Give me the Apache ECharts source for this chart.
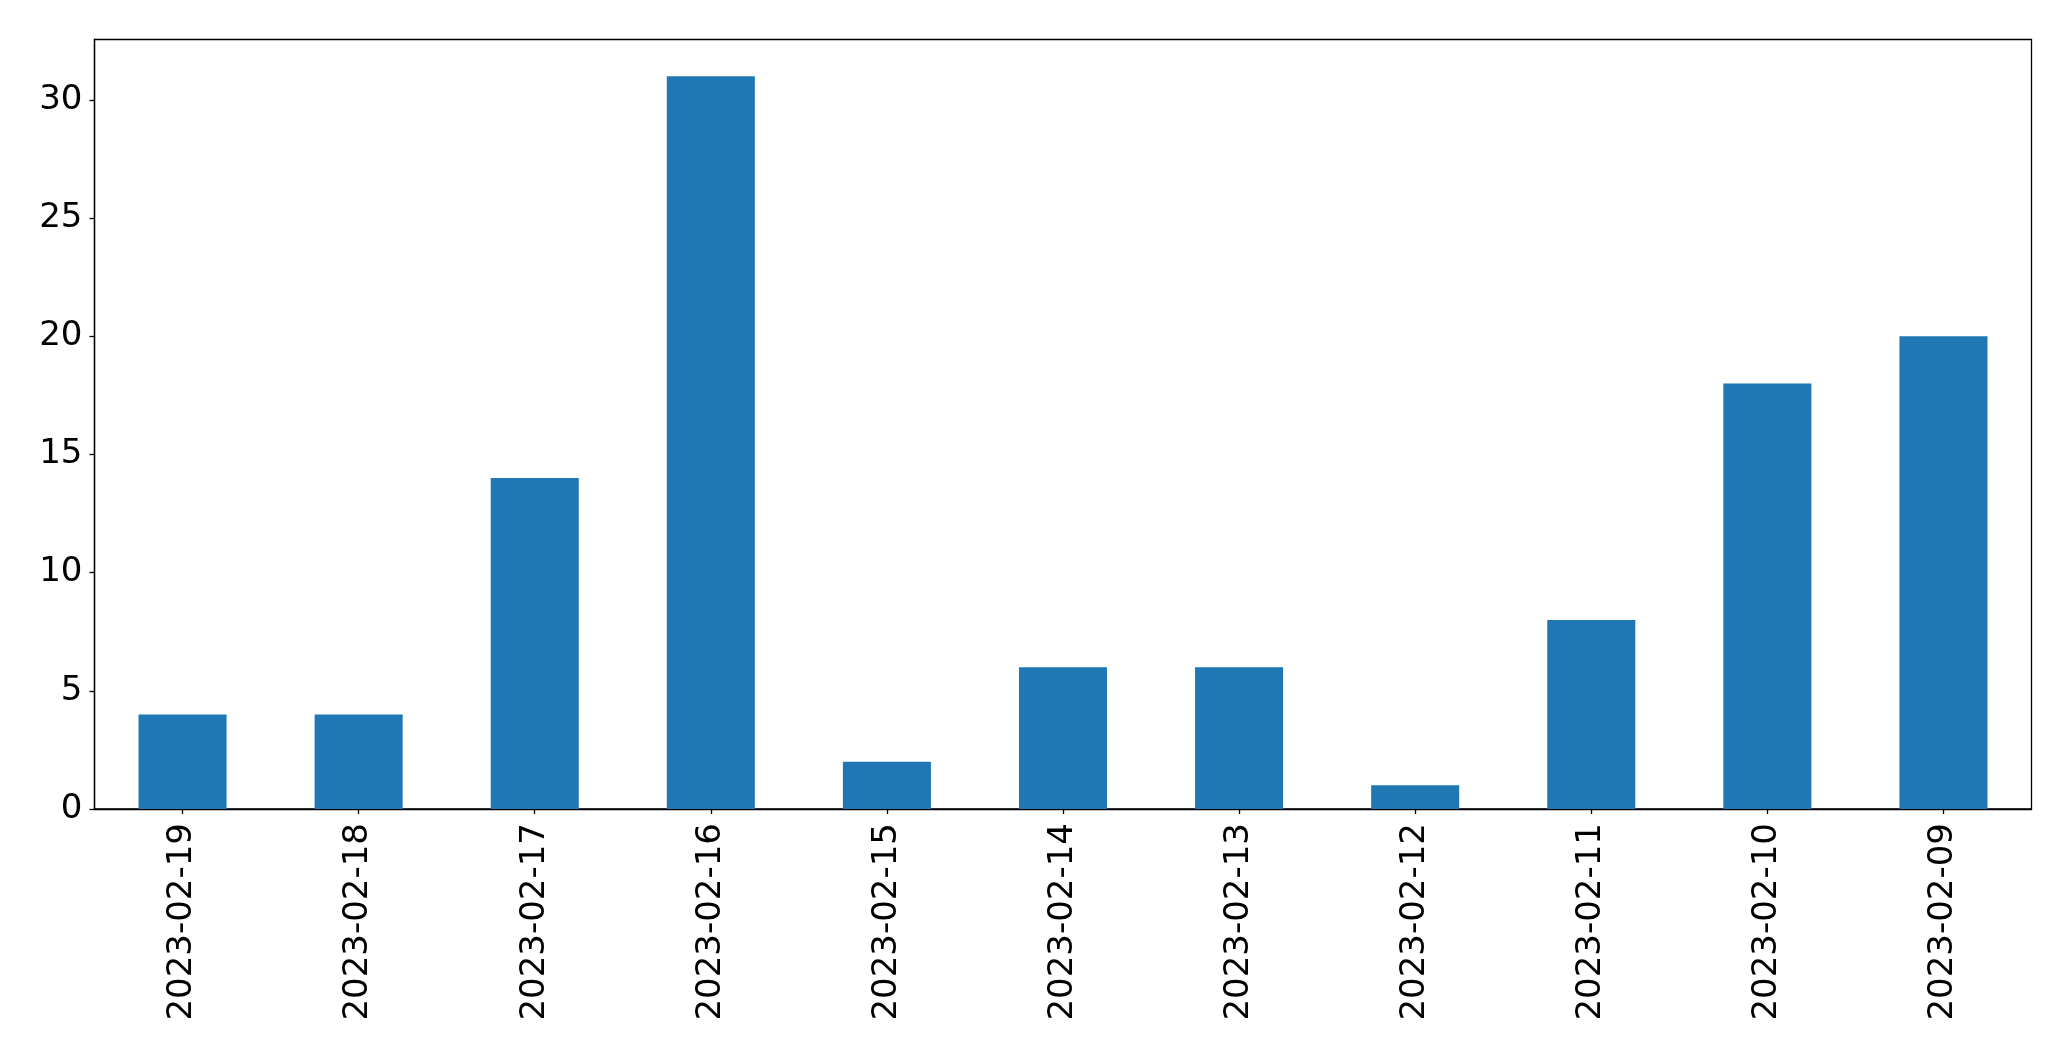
<!DOCTYPE html>
<html>
<head>
<meta charset="utf-8">
<script src="https://cdn.jsdelivr.net/npm/echarts@6/dist/echarts.min.js"></script>
<style>html,body{margin:0;padding:0;background:#fff;}#c{width:2071px;height:1061px;}</style>
</head>
<body>
<div id="c"></div>
<script>
const categories = ["2023-02-19","2023-02-18","2023-02-17","2023-02-16","2023-02-15","2023-02-14","2023-02-13","2023-02-12","2023-02-11","2023-02-10","2023-02-09"];
const values = [4, 4, 14, 31, 2, 6, 6, 1, 8, 18, 20];
const yTicks = [0, 5, 10, 15, 20, 25, 30];

const chart = echarts.init(document.getElementById('c'), null, {renderer: 'canvas'});
const font = 'DejaVu Sans';
chart.setOption({
  animation: false,
  backgroundColor: '#ffffff',
  grid: {left: 94.5, right: 39.5, top: 39.5, bottom: 252, show: true, borderColor: '#000', borderWidth: 1.3, backgroundColor: 'transparent'},
  xAxis: {
    type: 'category',
    data: categories,
    boundaryGap: true,
    axisLine: {show: true, lineStyle: {color: '#000', width: 1.3}},
    axisTick: {show: true, alignWithLabel: true, length: 5, lineStyle: {color: '#000', width: 1.3}},
    axisLabel: {rotate: 90, color: '#000', fontFamily: font, fontSize: 34, margin: 14, interval: 0}
  },
  yAxis: {
    type: 'value',
    min: 0,
    max: 32.55,
    interval: 5,
    splitLine: {show: false},
    axisLine: {show: true, lineStyle: {color: '#000', width: 1.3}},
    axisTick: {show: true, length: 5, customValues: yTicks, lineStyle: {color: '#000', width: 1.3}},
    axisLabel: {color: '#000', fontFamily: font, fontSize: 34, margin: 12, customValues: yTicks,
      formatter: function (v) { return String(v); }}
  },
  series: [{
    type: 'bar',
    data: values,
    barWidth: '50%',
    itemStyle: {color: '#1f77b4'}
  }]
});
</script>
</body>
</html>
